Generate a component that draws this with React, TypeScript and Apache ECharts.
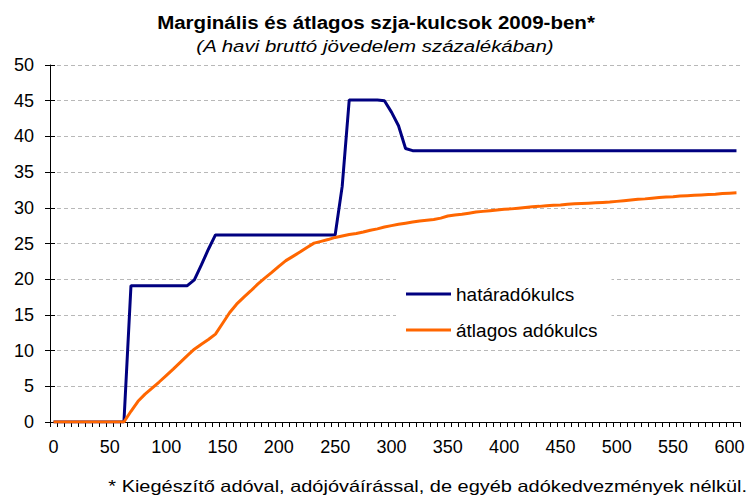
import React, { useEffect, useRef } from "react";
import * as echarts from "echarts";

const incomes = [
  0, 6.25, 12.5, 18.75, 25, 31.25, 37.5, 43.75, 50, 56.25, 62.5, 68.75, 75, 81.25, 87.5, 93.75,
  100, 106.25, 112.5, 118.75, 125, 131.25, 137.5, 143.75, 150, 156.25, 162.5, 168.75, 175, 181.25,
  187.5, 193.75, 200, 206.25, 212.5, 218.75, 225, 231.25, 237.5, 243.75, 250, 256.25, 262.5, 268.75,
  275, 281.25, 287.5, 293.75, 300, 306.25, 312.5, 318.75, 325, 331.25, 337.5, 343.75, 350, 356.25,
  362.5, 368.75, 375, 381.25, 387.5, 393.75, 400, 406.25, 412.5, 418.75, 425, 431.25, 437.5, 443.75,
  450, 456.25, 462.5, 468.75, 475, 481.25, 487.5, 493.75, 500, 506.25, 512.5, 518.75, 525, 531.25,
  537.5, 543.75, 550, 556.25, 562.5, 568.75, 575, 581.25, 587.5, 593.75, 600, 606.25,
];

const marginalRate = [
  0, 0, 0, 0, 0, 0, 0, 0, 0, 0, 0,
  19.1, 19.1, 19.1, 19.1, 19.1, 19.1, 19.1, 19.1, 19.1,
  19.9, 22.0, 24.2, 26.2,
  26.2, 26.2, 26.2, 26.2, 26.2, 26.2, 26.2, 26.2, 26.2, 26.2, 26.2, 26.2, 26.2, 26.2, 26.2, 26.2, 26.2,
  33.0,
  45.1, 45.1, 45.1, 45.1, 45.1,
  45.0, 43.4, 41.5, 38.3,
  38, 38, 38, 38, 38, 38, 38, 38, 38, 38, 38, 38, 38, 38, 38, 38, 38, 38, 38, 38, 38, 38, 38, 38,
  38, 38, 38, 38, 38, 38, 38, 38, 38, 38, 38, 38, 38, 38, 38, 38, 38, 38, 38, 38, 38, 38, 38,
];

const averageRate = [
  0, 0, 0, 0, 0, 0, 0, 0, 0, 0, 0,
  1.5, 2.9, 3.9, 4.75, 5.6, 6.5, 7.4, 8.35, 9.3,
  10.2, 10.9, 11.55, 12.3, 13.8, 15.3, 16.5, 17.45, 18.35, 19.3,
  20.15, 20.95, 21.8, 22.6, 23.2, 23.8, 24.45, 25.05, 25.3, 25.55,
  25.85, 26.05, 26.25, 26.4, 26.6, 26.85, 27.05, 27.3, 27.5, 27.7,
  27.85, 28.0, 28.15, 28.25, 28.35, 28.55, 28.85, 29.0, 29.1, 29.25,
  29.4, 29.5, 29.6, 29.7, 29.8, 29.85, 29.95, 30.05, 30.15, 30.2,
  30.3, 30.35, 30.4, 30.5, 30.55, 30.6, 30.65, 30.7, 30.75, 30.8,
  30.9, 31.0, 31.1, 31.2, 31.25, 31.35, 31.45, 31.5, 31.55, 31.65,
  31.7, 31.75, 31.8, 31.85, 31.9, 32.0, 32.05, 32.1,
];

const seriesNames = ["határadókulcs", "átlagos adókulcs"];
const titleText = "Marginális és átlagos szja-kulcsok 2009-ben*";
const subtitleText = "(A havi bruttó jövedelem százalékában)";
const footnoteText = "* Kiegészítő adóval, adójóváírással, de egyéb adókedvezmények nélkül.";

const FONT = 'Arial, "Liberation Sans", sans-serif';

export default function App() {
  const ref = useRef<HTMLDivElement>(null);

  useEffect(() => {
    if (!ref.current) return;
    const chart = echarts.init(ref.current, undefined, { renderer: "svg" });
    chart.setOption({
      animation: false,
      backgroundColor: "#ffffff",
      textStyle: { fontFamily: FONT },
      graphic: [
        {
          type: "text",
          x: 376,
          y: 22,
          scaleX: 1.08,
          style: {
            text: titleText,
            fontSize: 19,
            fontWeight: "bold",
            fontFamily: FONT,
            fill: "#000",
            textAlign: "center",
            textVerticalAlign: "middle",
          },
        },
        {
          type: "text",
          x: 375,
          y: 46,
          scaleX: 1.24,
          style: {
            text: subtitleText,
            fontSize: 16.5,
            fontStyle: "italic",
            fontFamily: FONT,
            fill: "#000",
            textAlign: "center",
            textVerticalAlign: "middle",
          },
        },
        {
          type: "text",
          x: 747,
          y: 486,
          scaleX: 1.21,
          style: {
            text: footnoteText,
            fontSize: 16.5,
            fontFamily: FONT,
            fill: "#000",
            textAlign: "right",
            textVerticalAlign: "middle",
          },
        },
      ],
      legend: {
        orient: "vertical",
        left: 396,
        top: 272,
        backgroundColor: "#ffffff",
        padding: [12, 14, 4, 10],
        icon: "rect",
        itemWidth: 45,
        itemHeight: 3,
        itemGap: 16,
        data: seriesNames,
        textStyle: { fontSize: 19, color: "#000", fontFamily: FONT, lineHeight: 20 },
      },
      grid: { left: 50, top: 65, right: 11, bottom: 75, containLabel: false },
      xAxis: {
        type: "category",
        data: incomes,
        boundaryGap: true,
        axisLine: { show: true, lineStyle: { color: "#000", width: 1 } },
        axisTick: { show: true, interval: 0, length: 5, lineStyle: { color: "#000", width: 1 } },
        axisLabel: { interval: 7, fontSize: 18, color: "#000", margin: 16, fontFamily: FONT },
        splitLine: { show: false },
      },
      yAxis: [
        {
          type: "value",
          min: 0,
          max: 50,
          interval: 5,
          axisLine: { show: true, lineStyle: { color: "#000", width: 1 } },
          axisTick: { show: true, length: 5, lineStyle: { color: "#000", width: 1 } },
          axisLabel: { fontSize: 18, color: "#000", margin: 16, fontFamily: FONT },
          splitLine: { show: true, lineStyle: { color: "#b8b8b8", width: 1, type: [4, 3] } },
        },
        {
          type: "value",
          position: "left",
          min: 0,
          max: 50,
          interval: 5,
          axisLine: { show: false },
          axisTick: { show: true, inside: true, length: 5, lineStyle: { color: "#000", width: 1 } },
          axisLabel: { show: false },
          splitLine: { show: false },
        },
      ],
      series: [
        {
          name: seriesNames[0],
          type: "line",
          data: marginalRate,
          symbol: "none",
          color: "#000080",
          lineStyle: { color: "#000080", width: 3 },
          z: 3,
        },
        {
          name: seriesNames[1],
          type: "line",
          data: averageRate,
          symbol: "none",
          color: "#FF6600",
          lineStyle: { color: "#FF6600", width: 3 },
          z: 4,
        },
      ],
    });
    return () => chart.dispose();
  }, []);

  return (
    <div
      ref={ref}
      style={{ position: "absolute", left: 0, top: 0, width: 751, height: 497, background: "#fff" }}
    />
  );
}
